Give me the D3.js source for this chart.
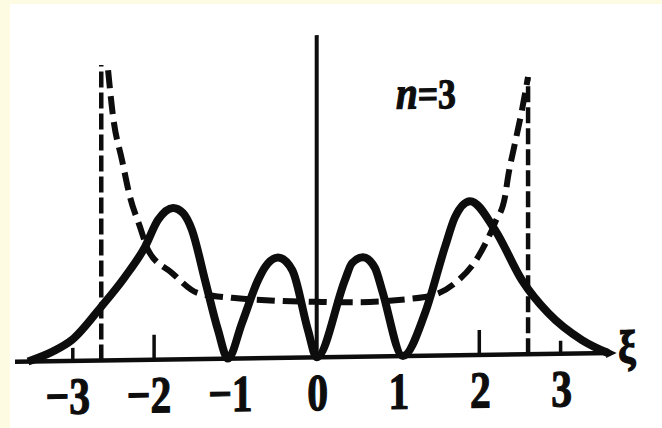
<!DOCTYPE html>
<html>
<head>
<meta charset="utf-8">
<script src="https://cdn.jsdelivr.net/npm/d3@7"></script>
<style>
  html, body { margin: 0; padding: 0; background: #fdfbe2; }
  svg { display: block; }
</style>
</head>
<body>
<div id="chart"></div>
<script>
// tick values and labels of the ξ axis
const ticks = [-3, -2, -1, 0, 1, 2, 3];
const tickLabels = ["\u22123", "\u22122", "\u22121", "0", "1", "2", "3"];
const markedTicks = [-3, -2, 2, 3];

// quantum probability density |ψ3|² (solid)
const quantumXi = [-3.551, -3.25, -3.01, -2.653, -2.359, -2.113, -1.953, -1.768, -1.645, -1.534, -1.374, -1.214, -1.091,
  -0.919, -0.722, -0.636, -0.476, -0.30, -0.107, 0,
  0.348, 0.434, 0.569, 0.717, 0.803, 1.061, 1.332, 1.578, 1.701, 1.886, 2.193, 2.525, 2.845, 3.263, 3.583];
const quantumP = [0, 0.020, 0.044, 0.112, 0.174, 0.236, 0.292, 0.317, 0.306, 0.270, 0.165, 0.060, 0,
  0.074, 0.163, 0.190, 0.210, 0.183, 0.057, 0,
  0.161, 0.196, 0.208, 0.185, 0.139, 0, 0.089, 0.227, 0.289, 0.322, 0.261, 0.155, 0.086, 0.028, 0];

// classical probability density (dashed)
const classicalXi = [-2.566, -2.504, -2.394, -2.296, -2.173, -2.075, -1.780, -1.460, -1.042, -0.451, 0,
  0.532, 1.332, 1.701, 1.984, 2.193, 2.316, 2.353, 2.439, 2.525, 2.599];
const classicalP = [0.607, 0.509, 0.418, 0.341, 0.278, 0.230, 0.181, 0.138, 0.127, 0.119, 0.116,
  0.114, 0.123, 0.151, 0.205, 0.276, 0.330, 0.371, 0.442, 0.511, 0.580];

// classical turning points (dashed verticals)
const turningXi = [-2.65, 2.60];
const turningTop = [0.618, 0.580];

const width = 662, height = 428;

const svg = d3.select("#chart").append("svg")
  .attr("width", width)
  .attr("height", height);

// white paper area
svg.append("rect")
  .attr("x", 10).attr("y", 4)
  .attr("width", width - 10).attr("height", height - 4)
  .attr("fill", "#ffffff");

const x = d3.scaleLinear().domain([0, 1]).range([316.7, 398]);
const y = d3.scaleLinear().domain([0, 0.7]).range([357.3, 22.7]);

// scanned figure is slightly tilted
const g = svg.append("g")
  .attr("transform", "translate(0," + (0.01466 * 317) + ") skewY(-0.84)");

const ink = "#0d0d0d";

// x axis line
g.append("line")
  .attr("x1", x(-3.711)).attr("x2", x(3.62))
  .attr("y1", y(0)).attr("y2", y(0))
  .attr("stroke", ink).attr("stroke-width", 4.5);

g.append("path")
  .attr("d", d3.line()([[x(3.56), y(0) - 5], [x(3.69), y(0)], [x(3.56), y(0) + 5]]))
  .attr("fill", ink);

// y axis line
g.append("line")
  .attr("x1", x(0)).attr("x2", x(0))
  .attr("y1", y(0)).attr("y2", y(0.674))
  .attr("stroke", ink).attr("stroke-width", 4);

// tick marks
g.selectAll(".tick")
  .data(markedTicks)
  .enter()
  .append("line")
  .attr("x1", d => x(d)).attr("x2", d => x(d))
  .attr("y1", y(0))
  .attr("y2", d => y(0) - (Math.abs(d) === 2 ? 25 : 13))
  .attr("stroke", ink).attr("stroke-width", 3.5);

// tick labels
g.selectAll(".tl")
  .data(ticks)
  .enter()
  .append("text")
  .attr("transform", d => "translate(" + (x(d) + (d < 0 ? -5 : 1)) + ",410) scale(0.8,1)")
  .attr("text-anchor", "middle")
  .attr("font-family", "Liberation Serif, serif")
  .attr("font-weight", "bold")
  .attr("font-size", 52)
  .attr("fill", ink)
  .attr("stroke", ink)
  .attr("stroke-width", 1.2)
  .text((d, i) => tickLabels[i]);

// axis name
g.append("text")
  .attr("transform", "translate(627,367) scale(0.85,1)")
  .attr("text-anchor", "middle")
  .attr("font-family", "Liberation Serif, serif")
  .attr("font-weight", "bold")
  .attr("font-size", 46)
  .attr("fill", ink)
  .attr("stroke", ink)
  .attr("stroke-width", 1.5)
  .text("\u03be");

// n = 3 label
const nLabel = g.append("text")
  .attr("transform", "translate(396,110) scale(0.85,1)")
  .attr("font-family", "Liberation Serif, serif")
  .attr("font-weight", "bold")
  .attr("fill", ink)
  .attr("stroke", ink)
  .attr("stroke-width", 1.2);
nLabel.append("tspan").attr("font-style", "italic").attr("font-size", 46).text("n");
nLabel.append("tspan").attr("font-size", 42).text("=3");

// turning point verticals
g.selectAll(".turn")
  .data(turningXi)
  .enter()
  .append("line")
  .attr("x1", d => x(d)).attr("x2", d => x(d))
  .attr("y1", y(0))
  .attr("y2", (d, i) => y(turningTop[i]))
  .attr("stroke", ink).attr("stroke-width", 4.5)
  .attr("stroke-dasharray", "16,5");

const line = d3.line()
  .x(d => x(d[0]))
  .y(d => y(d[1]))
  .curve(d3.curveMonotoneX);

// classical density
const classical = classicalXi.map((v, i) => [v, classicalP[i]]);
g.append("path")
  .datum(classical)
  .attr("d", line)
  .attr("fill", "none")
  .attr("stroke", ink)
  .attr("stroke-width", 6)
  .attr("stroke-dasharray", "18,8");

// quantum density
const quantum = quantumXi.map((v, i) => [v, quantumP[i]]);
g.append("path")
  .datum(quantum)
  .attr("d", line)
  .attr("fill", "none")
  .attr("stroke", ink)
  .attr("stroke-width", 8)
  .attr("stroke-linejoin", "round");
</script>
</body>
</html>
